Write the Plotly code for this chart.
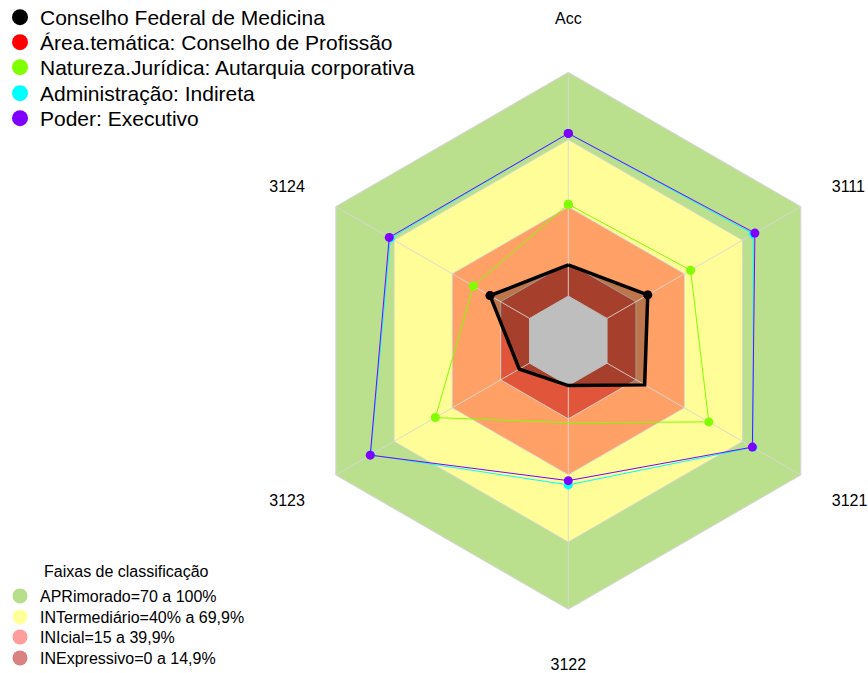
import plotly.graph_objects as go

categories = ['Acc', '3111', '3121', '3122', '3123', '3124']

series_names = [
    'Conselho Federal de Medicina',
    'Área.temática: Conselho de Profissão',
    'Natureza.Jurídica: Autarquia corporativa',
    'Administração: Indireta',
    'Poder: Executivo',
]
cfm = [13.9, 21.0, 19.4, 0.0, 5.3, 20.4]
area = [13.9, 21.0, 19.4, 0.0, 5.3, 20.4]
natureza = [41.0, 43.1, 52.5, 16.6, 48.6, 29.0]
administracao = [72.7, 75.5, 75.3, 44.4, 82.0, 71.8]
poder = [72.7, 76.3, 75.0, 42.5, 82.2, 72.4]

band_title = 'Faixas de classificação'
band_names = ['APRimorado=70 a 100%', 'INTermediário=40% a 69,9%',
              'INIcial=15 a 39,9%', 'INExpressivo=0 a 14,9%']
band_upper = [100, 69.9, 39.9, 14.9]
band_fill = ['#BADF8D', '#FFFD97', '#FFA066', '#E1553A']
band_legend = ['#B7DE8B', '#FFFF9C', '#FF9C9C', '#DA8282']
center_value = 0
axis_max = 100

series_colors = ['#000000', '#FF0000', '#7FFF00', '#00FFFF', '#7F00FF']
FONT = 'Liberation Sans, Arial, sans-serif'
W, H = 868, 673
GRID = 'rgba(215,215,215,0.9)'


def closed(v):
    return list(v) + [v[0]]


theta_c = closed(categories)
fig = go.Figure()

# classification bands
for up, col in zip(band_upper, band_fill):
    fig.add_trace(go.Scatterpolar(
        r=closed([up] * len(categories)), theta=theta_c, mode='lines',
        fill='toself', fillcolor=col, line=dict(color=GRID, width=1),
        showlegend=False, hoverinfo='skip'))

data = [cfm, area, natureza, administracao, poder]
# translucent fill of the main series
fig.add_trace(go.Scatterpolar(
    r=closed(cfm), theta=theta_c, mode='lines', fill='toself',
    fillcolor='rgba(0,0,0,0.26)', line=dict(width=0, color='rgba(0,0,0,0)'),
    showlegend=False, hoverinfo='skip'))
# grey centre
fig.add_trace(go.Scatterpolar(
    r=closed([center_value] * len(categories)), theta=theta_c, mode='lines',
    fill='toself', fillcolor='#BEBEBE', line=dict(color='#BEBEBE', width=1),
    showlegend=False, hoverinfo='skip'))
# spokes
spoke_r, spoke_t = [], []
for c in categories:
    spoke_r += [center_value, axis_max, None]
    spoke_t += [c, c, c]
fig.add_trace(go.Scatterpolar(
    r=spoke_r, theta=spoke_t, mode='lines', connectgaps=False,
    line=dict(color=GRID, width=1), showlegend=False, hoverinfo='skip'))

for i in [1, 2, 3, 4, 0]:
    col = series_colors[i]
    fig.add_trace(go.Scatterpolar(
        r=closed(data[i]), theta=theta_c, mode='lines+markers',
        line=dict(color=col, width=3.5 if i == 0 else 1),
        marker=dict(color=col, size=9), name=series_names[i], showlegend=False))

# legends: one legend per row
series_rows = [18, 43, 68, 94, 119]
band_rows = [596, 617, 637, 658]
legend_layout = {}
k = 1
for name, col, yc in zip(series_names, series_colors, series_rows):
    key = 'legend' if k == 1 else f'legend{k}'
    fig.add_trace(go.Scatterpolar(
        r=[None], theta=[categories[0]], mode='markers', name=name,
        marker=dict(color=col, size=16), legend=key))
    legend_layout[key] = dict(x=0, y=1 - (yc - 0.5) / H, xanchor='left', yanchor='middle',
                              font=dict(family=FONT, size=21, color='#000000'),
                              bgcolor='rgba(0,0,0,0)', itemwidth=30)
    k += 1
for name, col, yc in zip(band_names, band_legend, band_rows):
    key = f'legend{k}'
    fig.add_trace(go.Scatterpolar(
        r=[None], theta=[categories[0]], mode='markers', name=name,
        marker=dict(color=col, size=15), legend=key))
    legend_layout[key] = dict(x=0, y=1 - yc / H, xanchor='left', yanchor='middle',
                              font=dict(family=FONT, size=16, color='#000000'),
                              bgcolor='rgba(0,0,0,0)', itemwidth=30)
    k += 1
# title of the classification legend
key = f'legend{k}'
fig.add_trace(go.Scatterpolar(
    r=[None], theta=[categories[0]], mode='markers', name=' ',
    marker=dict(color='rgba(0,0,0,0)', size=1), legend=key))
legend_layout[key] = dict(x=42 / W, y=1 - 556 / H, xanchor='left', yanchor='top',
                          title=dict(text=band_title, side='top left',
                                     font=dict(family=FONT, size=16, color='#000000')),
                          font=dict(family=FONT, size=4, color='rgba(0,0,0,0)'),
                          bgcolor='rgba(0,0,0,0)', itemwidth=30)

# dummy trace holding the second (label-only) polar frame
fig.add_trace(go.Scatterpolar(
    r=[None] * len(categories), theta=categories, mode='markers', subplot='polar2',
    showlegend=False, hoverinfo='skip'))

cx, cy, R = 568.3, 340.8, 268.5
dom = dict(x=[(cx - R) / W, (cx + R) / W], y=[1 - (cy + R) / H, 1 - (cy - R) / H])
side_idx = [1, 2, 4, 5]
vert_idx = [0, 3]
all_idx = list(range(len(categories)))
fig.update_layout(
    width=W, height=H,
    margin=dict(l=0, r=0, t=0, b=0, autoexpand=False),
    paper_bgcolor='white', plot_bgcolor='white',
    font=dict(family=FONT, color='#000000'),
    polar=dict(
        domain=dom, gridshape='linear', bgcolor='rgba(0,0,0,0)',
        radialaxis=dict(range=[-20, axis_max], visible=False),
        angularaxis=dict(rotation=90, direction='clockwise', type='category',
                         categoryarray=categories,
                         tickmode='array', tickvals=all_idx,
                         ticktext=[c if i in side_idx else '' for i, c in enumerate(categories)],
                         ticks='outside', ticklen=32, tickcolor='rgba(0,0,0,0)',
                         tickfont=dict(family=FONT, size=16, color='#000000'),
                         showgrid=False, linecolor='#D6D6D6', linewidth=1),
    ),
    polar2=dict(
        domain=dom, gridshape='linear', bgcolor='rgba(0,0,0,0)',
        radialaxis=dict(range=[-20, axis_max], visible=False),
        angularaxis=dict(rotation=90, direction='clockwise', type='category',
                         categoryarray=categories,
                         tickmode='array', tickvals=all_idx,
                         ticktext=[c if i in vert_idx else '' for i, c in enumerate(categories)],
                         ticks='outside', ticklen=41, tickcolor='rgba(0,0,0,0)',
                         tickfont=dict(family=FONT, size=16, color='#000000'),
                         showgrid=False, showline=False),
    ),
    **legend_layout,
)

fig.write_html('out.html', config={'displayModeBar': False},
               post_script="document.body.style.margin='0px';")
